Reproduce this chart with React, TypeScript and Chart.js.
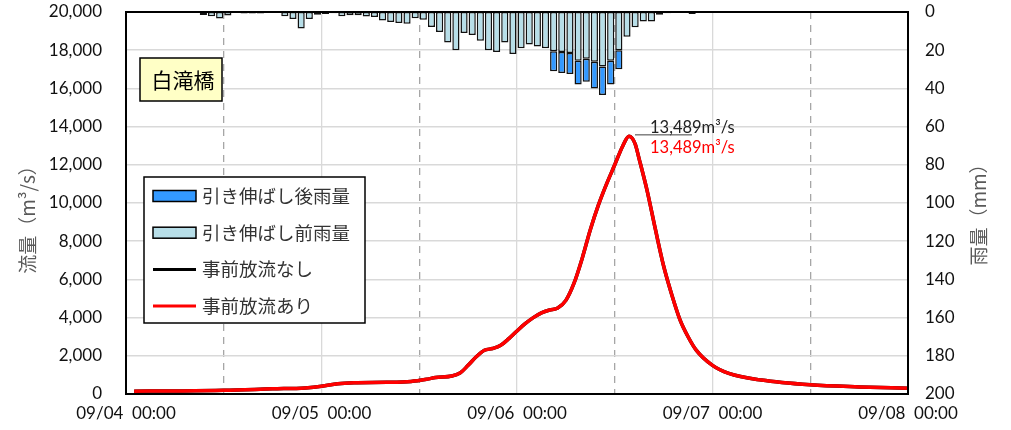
import React, { useEffect, useRef } from "react";
import { Chart, registerables } from "chart.js";
Chart.register(...registerables);

// ---- data ----
const stationName = "白滝橋";
const dayTickLabels = ["09/04  00:00", "09/05  00:00", "09/06  00:00", "09/07  00:00", "09/08  00:00"];
const leftAxisTitle = "流量（m³/s）";
const rightAxisTitle = "雨量（mm）";
const legendLabels = ["引き伸ばし後雨量", "引き伸ばし前雨量", "事前放流なし", "事前放流あり"];

// hourly rainfall (mm), 09/04 00:00 - 09/08 00:00, before stretching
const rainBefore = [
  0, 0, 0, 0, 0, 0.3, 0.3, 0, 0.3, 1.6, 2.2, 3.4, 1.8, 0.5, 0.8, 0.8,
  0.8, 0.3, 0.5, 2.2, 3.7, 8.6, 3.7, 1.5, 1, 0.7, 2.2, 1.7, 1.7, 2.3, 2.6, 4.5,
  5.3, 5.8, 6.1, 3.3, 4, 7.8, 10.5, 16, 20, 11, 12, 15, 20, 21, 16, 22,
  19, 17, 18, 19, 20.5, 21, 21.5, 25.5, 24.5, 26, 28.5, 25.5, 20, 13, 8, 5,
  5, 1.5, 0.7, 0.3, 0.3, 1, 0.2, 0, 0.3, 0, 0, 0, 0.5, 0, 0, 0,
  0.2, 0, 0, 0, 0, 0, 0, 0, 0, 0, 0, 0, 0.5, 0, 0, 0,
];
// additional rainfall after stretching (mm)
const rainAdded = [
  0, 0, 0, 0, 0, 0, 0, 0, 0, 0, 0, 0, 0, 0, 0, 0,
  0, 0, 0, 0, 0, 0, 0, 0, 0, 0, 0, 0, 0, 0, 0, 0,
  0, 0, 0, 0, 0, 0, 0, 0, 0, 0, 0, 0, 0, 0, 0, 0,
  0, 0, 0, 0, 10.5, 11, 11, 12.5, 12, 14, 15, 12.5, 10, 0, 0, 0,
  0, 0, 0, 0, 0, 0, 0, 0, 0, 0, 0, 0, 0, 0, 0, 0,
  0, 0, 0, 0, 0, 0, 0, 0, 0, 0, 0, 0, 0, 0, 0, 0,
];

// discharge (m3/s) at hours after 09/04 00:00
const flowHours = [
  1, 6, 12, 18, 22, 24, 26, 28, 32, 35, 37, 38, 40, 41, 42, 43, 44, 45, 46, 47, 48, 49,
  50, 51, 52, 53, 54, 55, 56, 57, 58, 59, 60, 61, 61.75, 62.5, 63, 64, 65, 66, 67, 68,
  69, 70, 72, 74, 78, 84, 90, 96,
];
const flowNoRelease = [
  150, 160, 190, 270, 320, 400, 540, 590, 610, 660, 780, 860, 940, 1100, 1500, 1950, 2290, 2380, 2550, 2900, 3300, 3680,
  4000, 4250, 4400, 4500, 4900, 5800, 7100, 8600, 9900, 11000, 12000, 13000, 13489, 13100, 12300, 10600, 8600, 6700, 5200, 3900,
  3000, 2300, 1500, 1080, 730, 480, 370, 300,
];
const flowWithRelease = [
  150, 160, 190, 270, 320, 400, 540, 590, 610, 660, 780, 860, 940, 1100, 1500, 1950, 2290, 2380, 2550, 2900, 3300, 3680,
  4000, 4250, 4400, 4500, 4900, 5800, 7100, 8600, 9900, 11000, 12000, 13000, 13489, 13100, 12300, 10600, 8600, 6700, 5200, 3900,
  3000, 2300, 1500, 1080, 730, 480, 370, 300,
];
const peakLabel = "13,489m³/s";

const CJK = "'Noto Sans CJK JP', 'Noto Sans', sans-serif";
const NUM = "Lato, 'Noto Sans', sans-serif";

const overlayPlugin = {
  id: "overlay",
  afterDraw(chart: any) {
    const { ctx, chartArea: a, scales } = chart;
    const ds = chart.data.datasets;
    ctx.save();

    // plot frame
    ctx.strokeStyle = "#000";
    ctx.lineWidth = 2;
    ctx.strokeRect(a.left, a.top, a.right - a.left, a.bottom - a.top);

    // station label
    const sx = a.left + 14, sy = a.top + 46, sw = 82, sh = 43;
    ctx.fillStyle = "#FFFFC6";
    ctx.fillRect(sx, sy, sw, sh);
    ctx.lineWidth = 1.5;
    ctx.strokeStyle = "#000";
    ctx.strokeRect(sx, sy, sw, sh);
    ctx.fillStyle = "#000";
    ctx.font = `21px ${CJK}`;
    ctx.textAlign = "center";
    ctx.textBaseline = "middle";
    ctx.fillText(stationName, sx + sw / 2 + 2, sy + sh / 2 + 1);

    // legend
    const lx = a.left + 18, ly = a.top + 165, lw = 221, lh = 146;
    ctx.fillStyle = "#fff";
    ctx.fillRect(lx, ly, lw, lh);
    ctx.lineWidth = 1.5;
    ctx.strokeStyle = "#000";
    ctx.strokeRect(lx, ly, lw, lh);
    ctx.font = `18.5px ${CJK}`;
    ctx.textAlign = "left";
    ctx.textBaseline = "middle";
    legendLabels.forEach((lab, i) => {
      const cy = ly + 19 + i * 36.7;
      const x0 = lx + 9, x1 = lx + 52;
      const d = ds[i];
      if (d.type === "line") {
        ctx.strokeStyle = d.borderColor;
        ctx.lineWidth = 3;
        ctx.beginPath();
        ctx.moveTo(x0, cy);
        ctx.lineTo(x1, cy);
        ctx.stroke();
      } else {
        ctx.fillStyle = d.backgroundColor;
        ctx.fillRect(x0, cy - 5.5, x1 - x0, 11);
        ctx.strokeStyle = "#000";
        ctx.lineWidth = 1.5;
        ctx.strokeRect(x0, cy - 5.5, x1 - x0, 11);
      }
      ctx.fillStyle = "#333";
      ctx.fillText(lab, x1 + 6, cy);
    });

    // peak annotation
    let pi = 0;
    flowWithRelease.forEach((v, i) => { if (v > flowWithRelease[pi]) pi = i; });
    const px = scales.x.getPixelForValue(flowHours[pi]);
    const py = scales.y.getPixelForValue(flowWithRelease[pi]);
    ctx.strokeStyle = "#404040";
    ctx.lineWidth = 1;
    ctx.beginPath();
    ctx.moveTo(px + 6, py - 1.5);
    ctx.lineTo(px + 63, py - 1.5);
    ctx.stroke();
    ctx.font = `16.5px ${NUM}`;
    ctx.textAlign = "left";
    ctx.textBaseline = "alphabetic";
    ctx.fillStyle = "#222";
    ctx.fillText(peakLabel, px + 21, py - 3.5);
    ctx.fillStyle = "#FF0000";
    ctx.fillText(peakLabel, px + 21, py + 17);

    // axis titles
    ctx.fillStyle = "#595959";
    ctx.font = `19px ${CJK}`;
    ctx.textAlign = "center";
    ctx.textBaseline = "middle";
    ctx.save();
    ctx.translate(28, 215);
    ctx.rotate(-Math.PI / 2);
    ctx.fillText(leftAxisTitle, 0, 0);
    ctx.restore();
    ctx.save();
    ctx.translate(979, 210);
    ctx.rotate(-Math.PI / 2);
    ctx.fillText(rightAxisTitle, 0, 0);
    ctx.restore();

    ctx.restore();
  },
};

const fixV = (w: number) => (s: any) => {
  s.width = w;
  s.paddingTop = 0;
  s.paddingBottom = 0;
};

export default function App() {
  const ref = useRef<HTMLCanvasElement | null>(null);
  useEffect(() => {
    document.body.style.margin = "0";
    const canvas = ref.current!;
    const tickFont = { family: NUM, size: 17 };
    const chart = new Chart(canvas, {
      type: "bar",
      data: {
        datasets: [
          {
            type: "bar",
            label: legendLabels[0],
            data: rainAdded.map((v, i) => ({ x: i + 0.5, y: v > 0 ? v : null })),
            backgroundColor: "#3399FF",
            borderColor: "#111",
            borderWidth: 1.5,
            borderSkipped: false,
            barPercentage: 0.88,
            categoryPercentage: 1,
            yAxisID: "y2",
            order: 3,
          },
          {
            type: "bar",
            label: legendLabels[1],
            data: rainBefore.map((v, i) => ({ x: i + 0.5, y: v })),
            backgroundColor: "#B7DEE8",
            borderColor: "#111",
            borderWidth: 1.5,
            borderSkipped: false,
            barPercentage: 0.88,
            categoryPercentage: 1,
            yAxisID: "y2",
            order: 2,
          },
          {
            type: "line",
            label: legendLabels[2],
            data: flowHours.map((h, i) => ({ x: h, y: flowNoRelease[i] })),
            borderColor: "#000",
            borderWidth: 3.5,
            pointRadius: 0,
            cubicInterpolationMode: "monotone",
            yAxisID: "y",
            order: 1,
          },
          {
            type: "line",
            label: legendLabels[3],
            data: flowHours.map((h, i) => ({ x: h, y: flowWithRelease[i] })),
            borderColor: "#FF0000",
            borderWidth: 3.5,
            pointRadius: 0,
            cubicInterpolationMode: "monotone",
            yAxisID: "y",
            order: 0,
          },
        ] as any,
      },
      options: {
        responsive: false,
        animation: false,
        layout: { padding: { top: 12, left: 0, right: 0, bottom: 0 } },
        plugins: { legend: { display: false }, tooltip: { enabled: false } },
        scales: {
          x: {
            type: "linear",
            min: 0,
            max: 96,
            offset: false,
            stacked: true,
            afterFit: (s: any) => {
              s.height = 36;
              s.paddingLeft = 0;
              s.paddingRight = 0;
            },
            ticks: {
              stepSize: 12,
              autoSkip: false,
              maxRotation: 0,
              padding: 9,
              color: "#111",
              font: tickFont,
              callback: (v: any) => (v % 24 === 0 ? dayTickLabels[v / 24] : ""),
            },
            grid: {
              offset: false,
              drawTicks: false,
              lineWidth: 1.3,
              color: (c: any) => (c.tick && c.tick.value % 24 !== 0 ? "#A6A6A6" : "#D9D9D9"),
            },
            border: {
              display: false,
              dash: (c: any) => (c.tick && c.tick.value % 24 !== 0 ? [7, 6] : []),
            },
          },
          y: {
            type: "linear",
            position: "left",
            min: 0,
            max: 20000,
            afterFit: fixV(126),
            ticks: {
              stepSize: 2000,
              padding: 24,
              color: "#111",
              font: tickFont,
              callback: (v: any) => Number(v).toLocaleString("en-US"),
            },
            grid: { drawTicks: false, color: "#D9D9D9", lineWidth: 1.5 },
            border: { display: false },
          },
          y2: {
            type: "linear",
            position: "right",
            min: 0,
            max: 200,
            reverse: true,
            stacked: true,
            afterFit: fixV(103),
            ticks: { stepSize: 20, padding: 17, color: "#111", font: tickFont },
            grid: { display: false, drawTicks: false },
            border: { display: false },
          },
        },
      } as any,
      plugins: [overlayPlugin],
    });
    return () => chart.destroy();
  }, []);
  return (
    <div style={{ width: 1011, height: 430 }}>
      <canvas ref={ref} width={1011} height={430} style={{ display: "block" }} />
    </div>
  );
}
